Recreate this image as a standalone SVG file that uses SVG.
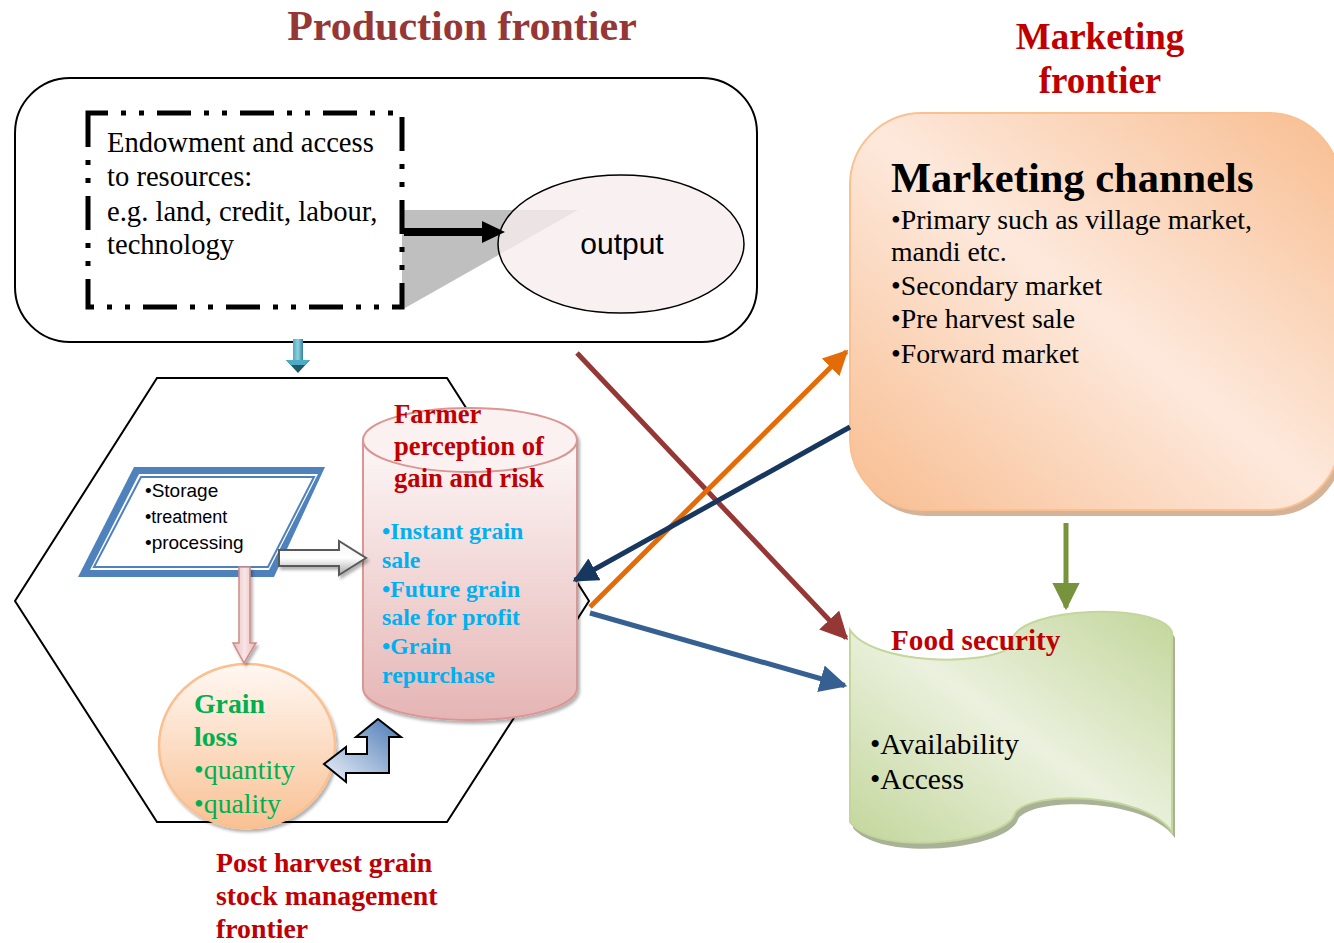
<svg xmlns="http://www.w3.org/2000/svg" width="1334" height="943" viewBox="0 0 1334 943">
<style>
.serif{font-family:"Liberation Serif","Times New Roman",serif}
.sans{font-family:"Liberation Sans",Arial,sans-serif}
.b{font-weight:bold}
.red{fill:#c00000}
.cyan{fill:#00b0f0}
.grn{fill:#00b050}
.conn{fill:none;stroke-width:5}
</style>
<defs>
  <linearGradient id="cylG" x1="0" y1="0" x2="0" y2="1">
    <stop offset="0" stop-color="#fdf7f7"/>
    <stop offset="1" stop-color="#e5b5b4"/>
  </linearGradient>
  <linearGradient id="lossG" x1="0" y1="0" x2="0" y2="1">
    <stop offset="0" stop-color="#fff8f3"/>
    <stop offset="1" stop-color="#f9c194"/>
  </linearGradient>
  <linearGradient id="mktG" x1="1" y1="0" x2="0" y2="1">
    <stop offset="0" stop-color="#f8bd90"/>
    <stop offset="0.5" stop-color="#fde9dc"/>
    <stop offset="1" stop-color="#f8bd90"/>
  </linearGradient>
  <linearGradient id="foodG" x1="1" y1="0" x2="0" y2="1">
    <stop offset="0" stop-color="#c3d69b"/>
    <stop offset="0.5" stop-color="#ebf1de"/>
    <stop offset="1" stop-color="#c3d69b"/>
  </linearGradient>
  <linearGradient id="bentG" x1="0" y1="1" x2="1" y2="0">
    <stop offset="0" stop-color="#eef2f9"/>
    <stop offset="1" stop-color="#4a78b5"/>
  </linearGradient>
  <linearGradient id="grayG" x1="0" y1="0" x2="0" y2="1">
    <stop offset="0" stop-color="#f2f2f2"/>
    <stop offset="0.5" stop-color="#ffffff"/>
    <stop offset="1" stop-color="#a6a6a6"/>
  </linearGradient>
  <linearGradient id="pinkG" x1="0" y1="0" x2="1" y2="0">
    <stop offset="0" stop-color="#e6b9b8"/>
    <stop offset="0.5" stop-color="#f8e6e6"/>
    <stop offset="1" stop-color="#e6b9b8"/>
  </linearGradient>
  <linearGradient id="tealG" x1="0" y1="0" x2="1" y2="0">
    <stop offset="0" stop-color="#4bacc6"/>
    <stop offset="0.5" stop-color="#93cddd"/>
    <stop offset="1" stop-color="#31859c"/>
  </linearGradient>
  <filter id="sh" x="-20%" y="-20%" width="140%" height="140%">
    <feDropShadow dx="2" dy="3" stdDeviation="1.5" flood-color="#000" flood-opacity="0.3"/>
  </filter>
  <marker id="mBrown" viewBox="0 0 10 10" refX="9" refY="5" markerWidth="5.5" markerHeight="5.5" orient="auto" markerUnits="strokeWidth"><path d="M0,0 L10,5 L0,10 Z" fill="#953735"/></marker>
  <marker id="mOrange" viewBox="0 0 10 10" refX="9" refY="5" markerWidth="5" markerHeight="5" orient="auto" markerUnits="strokeWidth"><path d="M0,0 L10,5 L0,10 Z" fill="#e36c09"/></marker>
  <marker id="mNavy" viewBox="0 0 10 10" refX="9" refY="5" markerWidth="5" markerHeight="5" orient="auto" markerUnits="strokeWidth"><path d="M0,0 L10,5 L0,10 Z" fill="#17375e"/></marker>
  <marker id="mBlue" viewBox="0 0 10 10" refX="9" refY="5" markerWidth="5.5" markerHeight="5.5" orient="auto" markerUnits="strokeWidth"><path d="M0,0 L10,5 L0,10 Z" fill="#376092"/></marker>
  <marker id="mGreen" viewBox="0 0 10 10" refX="9" refY="5" markerWidth="5.5" markerHeight="5.5" orient="auto" markerUnits="strokeWidth"><path d="M0,0 L10,5 L0,10 Z" fill="#77933c"/></marker>
</defs>

<g id="titles">
  <text class="serif b" x="462" y="40" font-size="42" fill="#953735" text-anchor="middle">Production frontier</text>
  <text class="serif b red" x="1100" y="49" font-size="37" text-anchor="middle">Marketing</text>
  <text class="serif b red" x="1100" y="93" font-size="37" text-anchor="middle">frontier</text>
  <text class="serif b red" font-size="27.8">
    <tspan x="216" y="872">Post harvest grain</tspan>
    <tspan x="216" y="905">stock management</tspan>
    <tspan x="216" y="938">frontier</tspan>
  </text>
</g>

<g id="production-box">
  <rect x="15" y="78" width="742" height="264" rx="55" fill="#fff" stroke="#000" stroke-width="2"/>
</g>

<g id="resources">
  <polygon points="402,210 578,210 405,308 402,308" fill="#bfbfbf"/>
  <path d="M88,113 L88,307 L402,307 L402,113 Z" fill="none" stroke="#000" stroke-width="5" stroke-dasharray="34 13 5 13 5 13"/>
  <text class="serif" font-size="28.6" fill="#000">
    <tspan x="107" y="152">Endowment and access</tspan>
    <tspan x="107" y="186">to resources:</tspan>
    <tspan x="107" y="221">e.g. land, credit, labour,</tspan>
    <tspan x="107" y="254">technology</tspan>
  </text>
</g>

<g id="output">
  <ellipse cx="621" cy="244" rx="123" ry="69" fill="#f7eded" fill-opacity="0.8" stroke="#000" stroke-width="1.5"/>
  <text class="sans" x="622" y="254" font-size="30" text-anchor="middle" fill="#000">output</text>
</g>

<g id="hexagon">
  <polygon points="157,378 447,378 589,601 447,822 157,822 15,601" fill="none" stroke="#000" stroke-width="2"/>
</g>

<g id="storage">
  <polygon points="134,467 325,467 274,577 78,577" fill="#4f81bd"/>
  <polygon points="139,474 318,474 269,570 90,570" fill="#fff"/>
  <polygon points="141,477 314,477 268,567 94,567" fill="#fff" stroke="#4f81bd" stroke-width="2"/>
  <text class="sans" fill="#000">
    <tspan x="145" y="497" font-size="19">•Storage</tspan>
    <tspan x="145" y="523" font-size="18">•treatment</tspan>
    <tspan x="145" y="549" font-size="19">•processing</tspan>
  </text>
</g>

<g id="perception">
  <g filter="url(#sh)">
    <path d="M363,440 L363,688 A107,32 0 0 0 577,688 L577,440 Z" fill="url(#cylG)" stroke="#d99694" stroke-width="2"/>
    <ellipse cx="470" cy="440" rx="107" ry="32" fill="#fbf1f1" stroke="#d99694" stroke-width="2"/>
  </g>
  <text class="serif b red" font-size="26.7">
    <tspan x="394" y="423">Farmer</tspan>
    <tspan x="394" y="455">perception of</tspan>
    <tspan x="394" y="487">gain and risk</tspan>
  </text>
  <text class="serif b cyan" font-size="23.8">
    <tspan x="382" y="539">•Instant grain</tspan>
    <tspan x="382" y="568">sale</tspan>
    <tspan x="382" y="597">•Future grain</tspan>
    <tspan x="382" y="625">sale for profit</tspan>
    <tspan x="382" y="654">•Grain</tspan>
    <tspan x="382" y="683">repurchase</tspan>
  </text>
</g>

<g id="grain-loss">
  <ellipse cx="247" cy="746" rx="88" ry="82" fill="url(#lossG)" stroke="#fac08f" stroke-width="2.5" filter="url(#sh)"/>
  <text class="serif grn" font-size="27.8">
    <tspan x="194" y="713" font-weight="bold">Grain</tspan>
    <tspan x="194" y="746" font-weight="bold">loss</tspan>
    <tspan x="194" y="779">•quantity</tspan>
    <tspan x="194" y="813">•quality</tspan>
  </text>
</g>

<g id="block-arrows">
  <polygon points="293,339 303,339 303,361 293,361" fill="url(#tealG)"/>
  <polygon points="286,360 310,360 298,373" fill="#215968"/>
  <polygon points="286,360 310,360 305,365 291,365" fill="#4bacc6"/>
  <polygon points="239,567 250,567 250,643 256,643 244,663 233,643 239,643" fill="url(#pinkG)" stroke="#d08a88" stroke-width="1.5" filter="url(#sh)"/>
  <polygon points="279,550 339,550 339,541 366,558 339,575 339,566 279,566" fill="url(#grayG)" stroke="#595959" stroke-width="2" filter="url(#sh)"/>
  <polygon points="324,764 346,747 346,754 367,754 367,737 356,737 378,719 401,737 389,737 389,773 346,773 346,782" fill="url(#bentG)" stroke="#000" stroke-width="2"/>
  <polygon points="404,228 482,228 482,221 505,232 482,243 482,236 404,236" fill="#000"/>
</g>

<g id="marketing">
  <rect x="854" y="119" width="490" height="397" rx="72" fill="#c9a080" opacity="0.8"/>
  <rect x="850" y="113" width="490" height="397" rx="72" fill="url(#mktG)" stroke="#fac090" stroke-width="2"/>
  <text class="serif b" x="891" y="192" font-size="42.5" fill="#000">Marketing channels</text>
  <text class="serif" font-size="27.8" fill="#000">
    <tspan x="891" y="229">•Primary such as village market,</tspan>
    <tspan x="891" y="261">mandi etc.</tspan>
    <tspan x="891" y="295">•Secondary market</tspan>
    <tspan x="891" y="328">•Pre harvest sale</tspan>
    <tspan x="891" y="363">•Forward market</tspan>
  </text>
</g>

<g id="food-security">
  <path transform="translate(3,6)" d="M850,630 C872,664 985,668 1012,646 L1012,640 C1020,606 1160,602 1172,632 L1172,832 C1145,792 1030,790 1015,813 C1008,842 880,858 850,822 Z" fill="#a9b296"/>
  <path d="M850,630 C872,664 985,668 1012,646 L1012,640 C1020,606 1160,602 1172,632 L1172,832 C1145,792 1030,790 1015,813 C1008,842 880,858 850,822 Z" fill="url(#foodG)" stroke="#c3d69b" stroke-width="2"/>
  <text class="serif b red" x="891" y="650" font-size="29.2">Food security</text>
  <text class="serif" font-size="29.5" fill="#000">
    <tspan x="870" y="754">•Availability</tspan>
    <tspan x="870" y="789">•Access</tspan>
  </text>
</g>

<g id="connectors">
  <line class="conn" x1="577" y1="353" x2="846.2" y2="638" stroke="#953735" marker-end="url(#mBrown)"/>
  <line class="conn" x1="590" y1="607" x2="846.5" y2="351.5" stroke="#e36c09" marker-end="url(#mOrange)"/>
  <line class="conn" x1="850" y1="427" x2="574.8" y2="580.3" stroke="#17375e" marker-end="url(#mNavy)"/>
  <line class="conn" x1="590" y1="613" x2="844.7" y2="685.5" stroke="#376092" marker-end="url(#mBlue)"/>
  <line class="conn" x1="1066" y1="523" x2="1066" y2="607.5" stroke="#77933c" marker-end="url(#mGreen)"/>
</g>
</svg>
